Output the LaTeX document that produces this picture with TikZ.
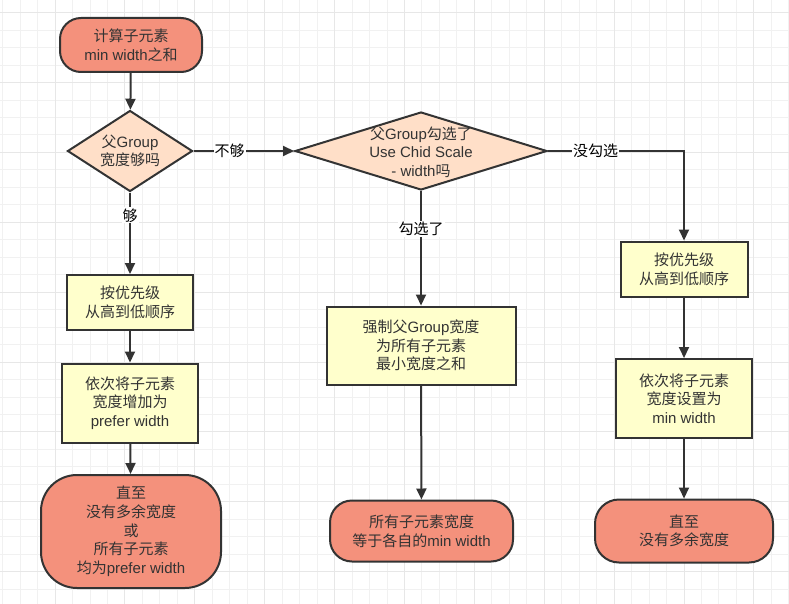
\documentclass[tikz,border=0pt]{standalone}
\usepackage{fontspec}
\setmainfont{Liberation Sans}
\newfontfamily\zhfont{Noto Sans CJK SC}
\newcommand\zh[1]{{\zhfont #1}}
\newcommand\fs{\fontsize{15pt}{18.7pt}\selectfont}
\usetikzlibrary{shapes.geometric,arrows.meta}
\definecolor{termfill}{RGB}{244,145,124}
\definecolor{diafill}{RGB}{255,223,200}
\definecolor{boxfill}{RGB}{255,255,204}
\definecolor{strokec}{RGB}{51,51,51}
\definecolor{textc}{RGB}{51,51,51}
\definecolor{gridminor}{RGB}{241,241,241}
\definecolor{gridmajor}{RGB}{231,231,231}
\tikzset{
  term/.style={draw=strokec, line width=2pt, fill=termfill, rounded corners=#1,
    align=center, inner sep=0pt, text=textc, font=\fs},
  procbox/.style={draw=strokec, line width=2pt, fill=boxfill,
    align=center, inner sep=0pt, text=textc, font=\fs},
  dia/.style={diamond, draw=strokec, line width=2pt, fill=diafill, inner sep=0pt},
  diatext/.style={align=center, inner sep=0pt, text=textc, font=\fs},
  arr/.style={draw=strokec, line width=2pt, -{Triangle[length=11pt,width=10pt]}},
  lbl/.style={fill=white, inner sep=1pt, text=black, font=\fs},
}
\begin{document}
\begin{tikzpicture}[x=1pt,y=-1pt]
\useasboundingbox (0,0) rectangle (789,604);
\fill[white] (0,0) rectangle (789,604);
% grid
\foreach \k in {0,...,45}{\pgfmathsetmacro\gx{2.7+\k*17.47}\draw[gridminor,line width=1pt] (\gx,0) -- (\gx,604);}
\foreach \k in {0,...,33}{\pgfmathsetmacro\gy{12.7+\k*17.47}\draw[gridminor,line width=1pt] (0,\gy) -- (789,\gy);}
\foreach \k in {3,7,...,43}{\pgfmathsetmacro\gx{2.7+\k*17.47}\draw[gridmajor,line width=1pt] (\gx,0) -- (\gx,604);}
\foreach \k in {0,4,...,32}{\pgfmathsetmacro\gy{12.7+\k*17.47}\draw[gridmajor,line width=1pt] (0,\gy) -- (789,\gy);}

% nodes
\node[term=21pt, minimum width=142pt, minimum height=54pt] (start) at (131,45)
  {\zh{计算子元素}\\min width\zh{之和}};
\node[dia, minimum width=125pt, minimum height=81pt] (d1) at (130,151) {};
\node[diatext] (d1t) at (d1.center) {\zh{父}Group\\\zh{宽度够吗}};
\node[dia, minimum width=252pt, minimum height=78pt] (d2) at (421,151) {};
\node[diatext] (d2t) at (421,152) {\zh{父}Group\zh{勾选了}\\Use Chid Scale\\- width\zh{吗}};

\node[procbox, minimum width=126pt, minimum height=55pt] (L1) at (130,302.5)
  {\zh{按优先级}\\\zh{从高到低顺序}};
\node[procbox, minimum width=136pt, minimum height=79pt] (L2) at (130,403)
  {\zh{依次将子元素}\\\zh{宽度增加为}\\prefer width};
\node[term=36pt, minimum width=180pt, minimum height=113pt] (L3) at (131,531.5)
  {\zh{直至}\\\zh{没有多余宽度}\\\zh{或}\\\zh{所有子元素}\\\zh{均为}prefer width};

\node[procbox, minimum width=189pt, minimum height=78pt] (M1) at (421,345.5)
  {\zh{强制父}Group\zh{宽度}\\\zh{为所有子元素}\\\zh{最小宽度之和}};
\node[term=22pt, minimum width=183pt, minimum height=61pt] (M2) at (421.5,531)
  {\zh{所有子元素宽度}\\\zh{等于各自的}min width};

\node[procbox, minimum width=127pt, minimum height=55pt] (R1) at (684,269)
  {\zh{按优先级}\\\zh{从高到低顺序}};
\node[procbox, minimum width=136pt, minimum height=79pt] (R2) at (684,398.5)
  {\zh{依次将子元素}\\\zh{宽度设置为}\\min width};
\node[term=24pt, minimum width=178pt, minimum height=63pt] (R3) at (684,531)
  {\zh{直至}\\\zh{没有多余宽度}};

% connectors
\draw[arr] (start) -- (d1);
\draw[arr] (d1.east) -- node[lbl, pos=0.36]{\zh{不够}} (d2.west);
\draw[arr] (d1.south) -- node[lbl, pos=0.28]{\zh{够}} (L1.north);
\draw[arr] (L1) -- (L2);
\draw[arr] (L2) -- (L3);
\draw[arr] (d2.south) -- node[lbl, pos=0.33]{\zh{勾选了}} (M1.north);
\draw[arr] (M1) -- (M2);
\draw[arr] (d2.east) -| node[lbl, pos=0.175]{\zh{没勾选}} (R1.north);
\draw[arr] (R1) -- (R2);
\draw[arr] (R2) -- (R3);
\end{tikzpicture}
\end{document}
